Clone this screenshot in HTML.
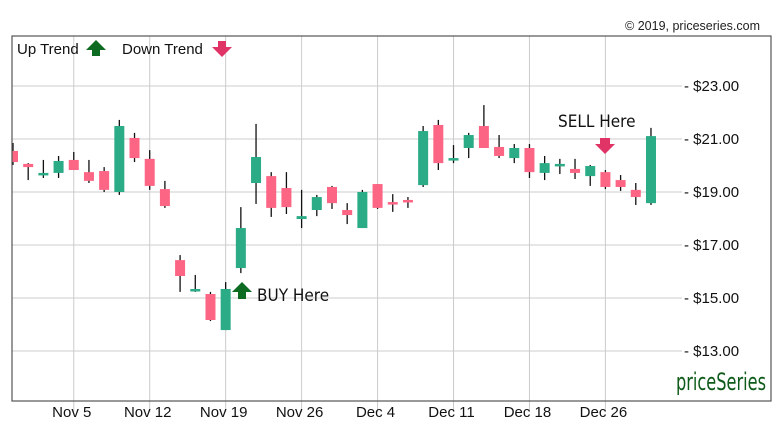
<!DOCTYPE html>
<html><head><meta charset="utf-8"><style>
body{margin:0;background:#fff;}
svg{display:block;font-family:"Liberation Sans",sans-serif;}
</style></head><body>
<svg id="chart" width="784" height="437" viewBox="0 0 784 437">
<defs><clipPath id="plotclip"><rect x="12" y="36" width="759" height="365"/></clipPath></defs>
<rect x="0" y="0" width="784" height="437" fill="#fff"/>
<text x="760" y="30" font-size="12.5" text-anchor="end" fill="#222">© 2019, priceseries.com</text>
<g id="grid"></g>
<g id="candles" clip-path="url(#plotclip)"></g>
<rect x="12" y="36" width="759" height="365" fill="none" stroke="#555" stroke-width="1.2"/>
<g>
<text x="17" y="54" font-size="15" fill="#111">Up Trend</text>
<path d="M96 40 L106 50 L100 50 L100 56 L92 56 L92 50 L86 50 Z" fill="#0e6b22"/>
<text x="122" y="54" font-size="15" fill="#111">Down Trend</text>
<path d="M222 57 L232 47 L226 47 L226 41 L218 41 L218 47 L212 47 Z" fill="#e03466"/>
</g>
<path d="M242 282 L252 292 L246 292 L246 299 L238 299 L238 292 L232 292 Z" fill="#0e6b22"/>
<text x="257" y="301" font-size="17" fill="#111" font-family="'DejaVu Sans Condensed','Liberation Sans Narrow','Liberation Sans',sans-serif">BUY Here</text>
<path d="M605 154 L615 144 L610 144 L610 138 L600 138 L600 144 L595 144 Z" fill="#e03466"/>
<text x="558" y="127" font-size="17" fill="#111" font-family="'DejaVu Sans Condensed','Liberation Sans Narrow','Liberation Sans',sans-serif">SELL Here</text>
<text x="766" y="390" font-size="24" fill="#0e5a1a" text-anchor="end" font-family="'DejaVu Sans Condensed','Liberation Sans Narrow',sans-serif" textLength="90" lengthAdjust="spacingAndGlyphs">priceSeries</text>
</svg>
<script>
const opens=[20.55,20.06,19.64,19.72,20.21,19.75,19.79,19.0,21.04,20.25,19.11,16.43,15.26,15.15,13.79,16.13,19.34,19.60,19.15,17.98,18.32,19.19,18.32,17.64,19.30,18.62,18.70,19.26,21.53,20.21,20.66,21.49,20.70,20.28,20.66,19.72,20.02,19.87,19.60,19.75,19.45,19.08,18.58];
const highs=[20.85,20.09,20.21,20.36,20.51,20.21,19.94,21.72,21.23,20.58,19.42,16.62,15.87,15.23,15.60,18.43,21.57,19.75,19.75,19.08,18.89,19.23,18.58,19.08,19.30,18.92,18.81,21.49,21.72,20.77,21.23,22.28,21.15,20.81,20.81,20.36,20.25,20.25,20.02,19.83,19.64,19.34,21.42];
const lows=[20.02,19.45,19.53,19.53,19.83,19.34,19.0,18.89,20.13,19.08,18.40,15.23,15.23,14.13,13.79,15.94,18.55,18.06,18.17,17.64,18.09,18.36,17.79,17.64,18.36,18.25,18.40,19.19,19.83,20.09,20.28,20.66,20.28,20.09,19.53,19.45,19.68,19.49,19.23,19.11,19.04,18.51,18.51];
const closes=[20.13,19.94,19.72,20.17,19.83,19.42,19.08,21.49,20.28,19.23,18.47,15.83,15.34,14.17,15.34,17.64,20.32,18.40,18.43,18.09,18.81,18.58,18.13,19.0,18.40,18.58,18.62,21.30,20.09,20.28,21.15,20.66,20.36,20.66,19.75,20.09,20.06,19.72,19.98,19.19,19.19,18.81,21.11];
const yTicks=[23,21,19,17,15,13];
const yTickLabels=["$23.00","$21.00","$19.00","$17.00","$15.00","$13.00"];
const xTickIdx=[4,9,14,19,24,29,34,39];
const xTickLabels=["Nov 5","Nov 12","Nov 19","Nov 26","Dec 4","Dec 11","Dec 18","Dec 26"];
const NS="http://www.w3.org/2000/svg";
function xS(i){return 13+i*15.19;}
function yS(v){return 86+(23-v)*26.5;}
function mk(tag,attrs,parent){const e=document.createElementNS(NS,tag);for(const k in attrs)e.setAttribute(k,attrs[k]);parent.appendChild(e);return e;}
const grid=document.getElementById('grid');
yTicks.forEach((v,i)=>{
  const l=mk('line',{x1:12,x2:682,y1:yS(v),y2:yS(v),stroke:'#ccc','stroke-width':1},grid);
  
  
  const t=mk('text',{x:684,y:yS(v)+5,'font-size':15,fill:'#111'},grid);
  t.textContent='- '+yTickLabels[i];
  
  
});
xTickIdx.forEach((idx,i)=>{
  const x=xS(idx);
  const l=mk('line',{x1:x,x2:x,y1:36,y2:412,stroke:'#ccc','stroke-width':1},grid);
  
  
  const t=mk('text',{x:x-2,y:417,'font-size':15,fill:'#111','text-anchor':'middle'},grid);
  t.textContent=xTickLabels[i];
  
  
});
const cg=document.getElementById('candles');
opens.forEach((o,i)=>{
  const c=closes[i],x=xS(i),up=c>=o;
  const col=up?'#2bab86':'#fd6585';
  const w=mk('line',{x1:x,x2:x,y1:yS(highs[i]),y2:yS(lows[i]),stroke:'#111','stroke-width':1.3},cg);
  
  
  const top=yS(Math.max(o,c)),bot=yS(Math.min(o,c));
  const r=mk('rect',{x:x-5,y:top,width:10,height:Math.max(2.5,bot-top),fill:col},cg);
  
  
});
</script>
</body></html>
